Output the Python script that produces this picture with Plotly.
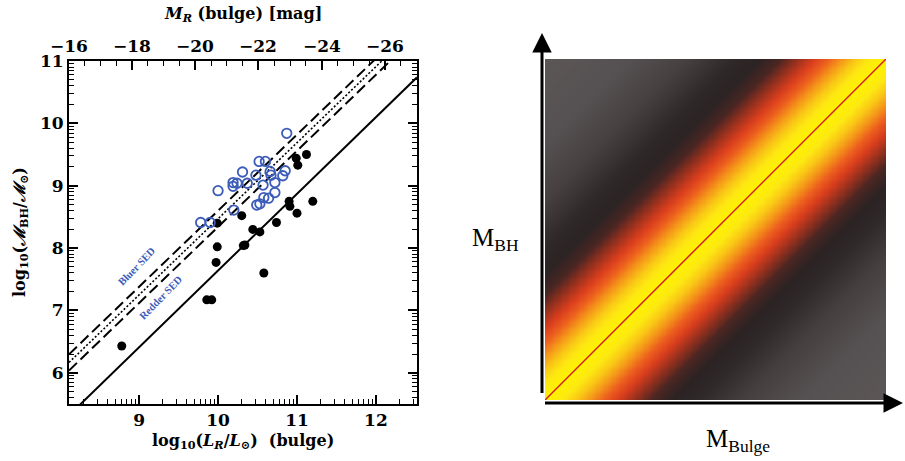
import numpy as np
import plotly.graph_objects as go

# ---------------- Left panel data ----------------
# filled black points: log10(L_R/Lsun), log10(M_BH/Msun)
black_logL = [8.78, 9.857, 9.92, 9.975, 9.99, 9.99, 10.30, 10.32, 10.34, 10.44,
              10.53, 10.58, 10.74, 10.90, 10.91, 11.00, 10.99, 11.01, 11.12, 11.20]
black_logM = [6.43, 7.17, 7.17, 7.77, 8.02, 8.40, 8.52, 8.04, 8.05, 8.30,
              8.26, 7.60, 8.41, 8.75, 8.67, 8.56, 9.44, 9.33, 9.50, 8.75]

# open blue circles
blue_logL = [9.78, 9.90, 10.00, 10.19, 10.19, 10.24, 10.20, 10.31, 10.37, 10.48,
             10.52, 10.60, 10.57, 10.49, 10.53, 10.58, 10.64, 10.66, 10.67, 10.72,
             10.72, 10.82, 10.85, 10.87]
blue_logM = [8.41, 8.41, 8.92, 8.99, 9.05, 9.04, 8.61, 9.22, 9.04, 9.17,
             9.39, 9.39, 9.01, 8.69, 8.71, 8.81, 8.80, 9.23, 9.17, 9.05,
             8.89, 9.16, 9.24, 9.84]

# relations: log M = intercept + slope * (log L - 10)
rel_names = ["bluer_dashed", "mean_dotted", "redder_dashed", "solid"]
rel_slope = [1.22, 1.22, 1.22, 1.23]
rel_icpt = [8.60, 8.47, 8.34, 7.64]

x_ticks = [9, 10, 11, 12]
y_ticks = [6, 7, 8, 9, 10, 11]
mag_ticks = [-16, -18, -20, -22, -24, -26]
mag_labels = ["\u221216", "\u221218", "\u221220", "\u221222", "\u221224", "\u221226"]
M_sun_R = 4.28
x_range = [8.112, 12.52]
y_range = [5.5, 11.0]

# ---------------- Right panel data (schematic) ----------------
# colour profile vs. |offset| from the 1:1 relation (fraction of panel width)
prof_offset = [0.00, 0.05, 0.09, 0.13, 0.17, 0.21, 0.26, 0.31, 0.37, 0.45, 0.58, 0.75, 1.00]
prof_color = ["#fff200", "#fde812", "#f9c616", "#f4951a", "#ec5e1e", "#d93e1d",
              "#94301e", "#4a2622", "#2c2323", "#2f2929", "#463f40", "#555051", "#5c5657"]

# ---------------- styles ----------------
BLUE = "#3b5cb8"
line_styles = {
    "bluer_dashed": dict(color="black", width=2, dash="11px,5px"),
    "mean_dotted": dict(color="black", width=1.6, dash="2px,2px"),
    "redder_dashed": dict(color="black", width=2, dash="11px,5px"),
    "solid": dict(color="black", width=2),
}
W, H = 905, 461
L_dom = [69 / W, 417 / W]
L_ydom = [1 - 404 / H, 1 - 61 / H]
R_dom = [545 / W, 886 / W]
R_ydom = [1 - 400 / H, 1 - 59 / H]
FONT = "DejaVu Serif"

fig = go.Figure()

# relations
for name, s, c in zip(rel_names, rel_slope, rel_icpt):
    xs = list(x_range)
    ys = [c + s * (x - 10) for x in xs]
    fig.add_trace(go.Scatter(x=xs, y=ys, mode="lines", line=line_styles[name],
                             xaxis="x", yaxis="y", hoverinfo="skip"))

fig.add_trace(go.Scatter(x=black_logL, y=black_logM, mode="markers",
                         marker=dict(size=9, color="black"), xaxis="x", yaxis="y"))
fig.add_trace(go.Scatter(x=blue_logL, y=blue_logM, mode="markers",
                         marker=dict(size=9.5, color="rgba(0,0,0,0)", line=dict(color=BLUE, width=1.8)),
                         xaxis="x", yaxis="y"))

# right panel heatmap
N = 300
g = np.linspace(0, 1, N)
GX, GY = np.meshgrid(g, g)
Z = np.abs(GY - GX)
cscale = [[o, c] for o, c in zip(prof_offset, prof_color)]
fig.add_trace(go.Heatmap(x=g, y=g, z=Z, colorscale=cscale, zmin=0, zmax=1,
                         showscale=False, zsmooth="best", xaxis="x3", yaxis="y3",
                         hoverinfo="skip"))
fig.add_trace(go.Scatter(x=[0, 1], y=[0, 1], mode="lines",
                         line=dict(color="#d0202a", width=1.5), xaxis="x3", yaxis="y3"))

# minor ticks in the original's log-style pattern
logfrac = np.log10(np.arange(2, 10))
x_minor = [n + f for n in range(8, 13) for f in logfrac if x_range[0] < n + f < x_range[1]]
y_minor = [n + f for n in range(5, 11) for f in logfrac if y_range[0] < n + f < y_range[1]]

tickfont = dict(family=FONT, size=17, color="black", weight="bold")
mag_range = [M_sun_R - 2.5 * x_range[0], M_sun_R - 2.5 * x_range[1]]

fig.update_layout(
    template="none",
    width=W, height=H, margin=dict(l=0, r=0, t=0, b=0, autoexpand=False),
    paper_bgcolor="white", plot_bgcolor="white", showlegend=False,
    xaxis=dict(domain=L_dom, range=x_range, anchor="y", tickvals=x_ticks, automargin=False,
               ticks="inside", ticklen=9, tickwidth=1.5, tickcolor="black",
               showline=True, linewidth=2, linecolor="black", mirror=True,
               showgrid=False, zeroline=False, tickfont=tickfont,
               minor=dict(tickvals=x_minor, ticks="inside", ticklen=5, tickwidth=1.3, tickcolor="black")),
    xaxis2=dict(domain=L_dom, range=mag_range, anchor="y", overlaying="x", side="top", automargin=False,
                tickvals=mag_ticks, showticklabels=False, ticks="inside", ticklen=9, tickwidth=1.5,
                tickcolor="black", showgrid=False, zeroline=False,
                minor=dict(dtick=0.5, tick0=-16, ticks="inside", ticklen=5, tickwidth=1.3, tickcolor="black")),
    yaxis=dict(domain=L_ydom, range=y_range, anchor="x", tickvals=y_ticks, automargin=False,
               ticks="inside", ticklen=9, tickwidth=1.5, tickcolor="black",
               showline=True, linewidth=2, linecolor="black", mirror="ticks",
               showgrid=False, zeroline=False, tickfont=tickfont,
               minor=dict(tickvals=y_minor, ticks="inside", ticklen=5, tickwidth=1.3, tickcolor="black")),
    xaxis3=dict(domain=R_dom, range=[0, 1], anchor="y3", visible=False, automargin=False),
    yaxis3=dict(domain=R_ydom, range=[0, 1], anchor="x3", visible=False, automargin=False),
)

# empty trace to activate xaxis2
fig.add_trace(go.Scatter(x=[None], y=[None], xaxis="x2", yaxis="y"))

ann = []
C = dict(xanchor="center", yanchor="middle", showarrow=False)
# top (magnitude) tick labels placed on the x2 scale
for m, lab in zip(mag_ticks, mag_labels):
    ann.append(dict(text=lab, xref="x2", yref="paper", x=m, y=1 - 46 / H, font=tickfont, **C))

tf = dict(family=FONT, size=16, color="black", weight="bold")
ann.append(dict(text="log<sub>10</sub>(<i>L<sub>R</sub></i>/<i>L</i><sub>⊙</sub>)  (bulge)",
                xref="paper", yref="paper", x=243 / W, y=1 - 441 / H, font=tf, **C))
ann.append(dict(text="log<sub>10</sub>(<i>ℳ</i><sub>BH</sub>/<i>ℳ</i><sub>⊙</sub>)",
                xref="paper", yref="paper", x=20 / W, y=1 - 232 / H, font=tf, textangle=-90, **C))
ann.append(dict(text="<i>M<sub>R</sub></i> (bulge) [mag]",
                xref="paper", yref="paper", x=243 / W, y=1 - 15 / H, font=tf, **C))
sedfont = dict(family="Liberation Serif", size=10.5, color=BLUE, weight="bold")
ann.append(dict(text="Bluer SED", xref="x", yref="y", x=8.97, y=7.70,
                textangle=-46, font=sedfont, **C))
ann.append(dict(text="Redder SED", xref="x", yref="y", x=9.28, y=7.20,
                textangle=-46, font=sedfont, **C))
# right panel arrows (axis arrows of the schematic)
ann.append(dict(text=" ", xref="paper", yref="paper", axref="pixel", ayref="pixel",
                x=542 / W, y=1 - 33 / H, ax=0, ay=370, showarrow=True,
                arrowhead=2, arrowsize=1.3, arrowwidth=3, arrowcolor="black", standoff=0))
ann.append(dict(text=" ", xref="paper", yref="paper", axref="pixel", ayref="pixel",
                x=903 / W, y=1 - 403 / H, ax=-361, ay=0, showarrow=True,
                arrowhead=2, arrowsize=1.3, arrowwidth=3, arrowcolor="black", standoff=0))
sf = dict(family="Liberation Serif", size=25, color="black")
ann.append(dict(text="M<sub>BH</sub>", xref="paper", yref="paper", x=495 / W, y=1 - 240 / H,
                font=sf, **C))
ann.append(dict(text="M<sub>Bulge</sub>", xref="paper", yref="paper", x=738 / W, y=1 - 440 / H,
                font=sf, **C))
fig.update_layout(annotations=ann)

fig.write_html("out.html")
